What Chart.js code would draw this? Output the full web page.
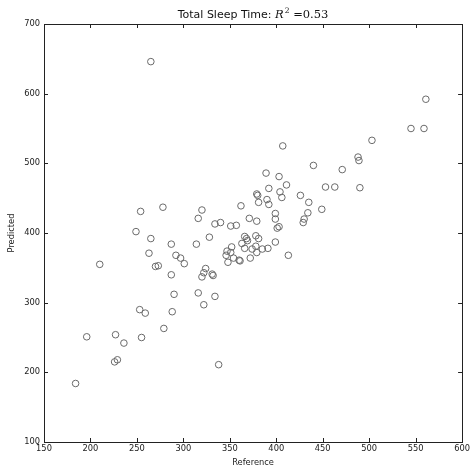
<!DOCTYPE html>
<html>
<head>
<meta charset="utf-8">
<script src="https://cdn.jsdelivr.net/npm/chart.js@4/dist/chart.umd.min.js"></script>
<style>
  html, body { margin: 0; padding: 0; background: #fff; }
  canvas { display: block; }
</style>
</head>
<body>
<canvas id="sleep" width="472" height="471"></canvas>
<script>
// values
const reference = [184, 196, 210, 226, 229, 227, 236, 249, 253, 254, 255, 259, 263, 265, 265, 270, 273,
  278, 279, 287, 287, 288, 290, 292, 297, 301, 314, 316, 316, 320, 320, 322, 322, 324, 328, 331, 332,
  334, 334, 338, 340, 346, 347, 348, 351, 351, 352, 354, 357, 360, 361, 362, 363, 366, 366, 368, 369,
  371, 372, 374, 378, 378, 379, 379, 379, 380, 381, 381, 385, 389, 390, 391, 392, 392, 399, 399, 399,
  401, 403, 403, 404, 406, 407, 411, 413, 426, 429, 430, 434, 435, 440, 449, 453, 463, 471, 488, 489,
  490, 503, 545, 559, 561];
const predicted = [184, 251, 355, 215, 218, 254, 242, 402, 290, 431, 250, 285, 371, 392, 646, 352, 353,
  437, 263, 384, 340, 287, 312, 368, 364, 356, 384, 421, 314, 433, 337, 343, 297, 349, 394, 341, 339,
  413, 309, 211, 415, 368, 374, 358, 410, 372, 380, 364, 411, 361, 360, 439, 385, 378, 395, 392, 389,
  421, 364, 377, 381, 396, 372, 417, 456, 454, 444, 392, 377, 486, 448, 378, 441, 464, 428, 420, 387,
  407, 409, 481, 459, 451, 525, 469, 368, 454, 415, 420, 429, 444, 497, 434, 466, 466, 491, 509, 504,
  465, 533, 550, 550, 592];

const xTicks = [150, 200, 250, 300, 350, 400, 450, 500, 550, 600];
const yTicks = [100, 200, 300, 400, 500, 600, 700];

const points = reference.map((r, i) => ({ x: r, y: predicted[i] }));

// matplotlib style frame with inward ticks on all four sides + the title
const frame = {
  id: 'frame',
  afterDraw(chart) {
    const c = chart.ctx;
    const a = chart.chartArea;
    const sx = chart.scales.x, sy = chart.scales.y;
    c.save();
    c.strokeStyle = '#222';
    c.lineWidth = 1;
    c.strokeRect(Math.round(a.left) + 0.5, Math.round(a.top) + 0.5,
      Math.round(a.right - a.left), Math.round(a.bottom - a.top));
    c.beginPath();
    xTicks.forEach(v => {
      const px = Math.round(sx.getPixelForValue(v)) + 0.5;
      c.moveTo(px, a.bottom); c.lineTo(px, a.bottom - 4);
      c.moveTo(px, a.top); c.lineTo(px, a.top + 4);
    });
    yTicks.forEach(v => {
      const py = Math.round(sy.getPixelForValue(v)) + 0.5;
      c.moveTo(a.left, py); c.lineTo(a.left + 4, py);
      c.moveTo(a.right, py); c.lineTo(a.right - 4, py);
    });
    c.stroke();

    // title: "Total Sleep Time: R^2 =0.53"
    const plain = 'Total Sleep Time: ';
    const fSans = '11px "DejaVu Sans"';
    const fIt = 'italic 11.5px "DejaVu Serif"';
    const fSup = '7.5px "DejaVu Serif"';
    const fSer = '11.5px "DejaVu Serif"';
    c.font = fSans; const w1 = c.measureText(plain).width;
    c.font = fIt; const w2 = c.measureText('R').width;
    c.font = fSup; const w3 = c.measureText('2').width;
    c.font = fSer; const w4 = c.measureText(' =0.53').width;
    let x = (a.left + a.right) / 2 - (w1 + w2 + w3 + 1 + w4) / 2;
    const base = 18;
    c.fillStyle = '#111';
    c.textBaseline = 'alphabetic';
    c.textAlign = 'left';
    c.font = fSans; c.fillText(plain, x, base); x += w1;
    c.font = fIt; c.fillText('R', x, base); x += w2 + 1;
    c.font = fSup; c.fillText('2', x, base - 5); x += w3;
    c.font = fSer; c.fillText(' =0.53', x, base);
    c.restore();
  }
};

new Chart(document.getElementById('sleep').getContext('2d'), {
  type: 'scatter',
  data: {
    datasets: [{
      data: points,
      pointStyle: 'circle',
      pointRadius: 3.3,
      pointBorderWidth: 1,
      borderColor: '#6a6a6a',
      backgroundColor: 'rgba(255,255,255,0)'
    }]
  },
  options: {
    responsive: false,
    devicePixelRatio: 1,
    animation: false,
    layout: { padding: { top: 24, right: 9, left: 0, bottom: 0 } },
    plugins: {
      legend: { display: false },
      tooltip: { enabled: false },
      title: { display: false }
    },
    scales: {
      x: {
        type: 'linear',
        min: 150, max: 600,
        afterBuildTicks: s => { s.ticks = xTicks.map(v => ({ value: v })); },
        afterFit: s => { s.height = 29; },
        grid: { display: false, drawTicks: false },
        border: { display: false },
        ticks: { color: '#222', padding: 2, maxRotation: 0, font: { family: 'DejaVu Sans', size: 8.3 } },
        title: { display: true, text: 'Reference', color: '#222', padding: { top: 0, bottom: 3 },
          font: { family: 'DejaVu Sans', size: 8.3 } }
      },
      y: {
        type: 'linear',
        min: 100, max: 700,
        afterBuildTicks: s => { s.ticks = yTicks.map(v => ({ value: v })); },
        afterFit: s => { s.width = 44; },
        grid: { display: false, drawTicks: false },
        border: { display: false },
        ticks: { color: '#222', padding: 4, font: { family: 'DejaVu Sans', size: 8.3 } },
        title: { display: true, text: 'Predicted', color: '#222', padding: { top: 7, bottom: 0 },
          font: { family: 'DejaVu Sans', size: 8.3 } }
      }
    }
  },
  plugins: [frame]
});
</script>
</body>
</html>
